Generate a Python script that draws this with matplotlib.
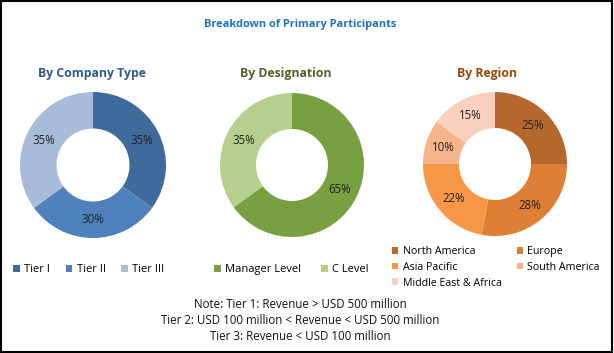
import matplotlib.pyplot as plt
from matplotlib.patches import Patch, Rectangle

# data
company_labels = ['Tier I', 'Tier II', 'Tier III']
company_vals = [35, 30, 35]
company_colors = ['#3E6A9C', '#4F81BD', '#A9BBDA']

desig_labels = ['Manager Level', 'C Level']
desig_vals = [65, 35]
desig_colors = ['#77A041', '#B6CF8F']

region_labels = ['North America', 'Europe', 'Asia Pacific', 'South America', 'Middle East & Africa']
region_vals = [25, 28, 22, 10, 15]
region_colors = ['#B5682E', '#DE7F36', '#F79646', '#F6B48D', '#F9D0BD']

notes = ['Note: Tier 1: Revenue > USD 500 million',
         'Tier 2: USD 100 million < Revenue < USD 500 million',
         'Tier 3: Revenue < USD 100 million']

W, H = 614, 353
plt.rcParams['font.family'] = ['Open Sans', 'DejaVu Sans']
fig = plt.figure(figsize=(W / 100, H / 100), dpi=100)
fig.patch.set_facecolor('white')


def px(x, y):
    return x / W, 1 - y / H


def donut(cx, cy, r, vals, colors, title, tx, tcolor):
    ax = fig.add_axes([(cx - r) / W, 1 - (cy + r) / H, 2 * r / W, 2 * r / H])
    ax.pie(vals, colors=colors, startangle=90, counterclock=False,
           wedgeprops=dict(width=0.5, edgecolor='none'),
           autopct='%d%%', pctdistance=0.75,
           textprops=dict(fontsize=8.3, color='#222222'))
    ax.set_xlim(-1, 1)
    ax.set_ylim(-1, 1)
    ax.set_aspect('equal')
    ax.axis('off')
    fig.text(*px(tx, 73), title, ha='center', va='center', fontsize=8.8,
             fontweight='bold', color=tcolor)
    return ax


donut(93, 165, 73, company_vals, company_colors, 'By Company Type', 92, '#2F5A8C')
donut(292, 165, 72, desig_vals, desig_colors, 'By Designation', 286, '#4F6228')
donut(495, 164, 72, region_vals, region_colors, 'By Region', 487, '#984807')

fig.text(*px(300, 25), 'Breakdown of Primary Participants', ha='center', va='center',
         fontsize=7.9, fontweight='bold', color='#1F72BC')


def legend(labels, colors, x, y, ncol, colsp, fs=8, lsp=0.15):
    handles = [Patch(facecolor=c, edgecolor='none', label=l) for l, c in zip(labels, colors)]
    fig.legend(handles=handles, loc='upper left', bbox_to_anchor=px(x, y), ncol=ncol,
               frameon=False, fontsize=fs, handlelength=0.6, handleheight=0.6,
               handletextpad=0.4, columnspacing=colsp, labelspacing=lsp,
               borderaxespad=0, borderpad=0)


legend(company_labels, company_colors, 13, 264, 3, 1.4)
legend(desig_labels, desig_colors, 214, 264, 2, 1.8)
# legend fills column-wise, so reorder to read row-wise like the original
order = [0, 2, 4, 1, 3]
legend([region_labels[i] for i in order], [region_colors[i] for i in order], 392, 246, 2, 1.4,
       fs=7.7, lsp=0.45)

for i, line in enumerate(notes):
    fig.text(*px(300, 304 + i * 16.5), line, ha='center', va='center', fontsize=8.3,
             color='#111111')

fig.add_artist(Rectangle((0.002, 0.003), 0.995, 0.994, transform=fig.transFigure,
                         fill=False, edgecolor='black', linewidth=1.5))

fig.savefig('out.png', dpi=100, facecolor='white')
